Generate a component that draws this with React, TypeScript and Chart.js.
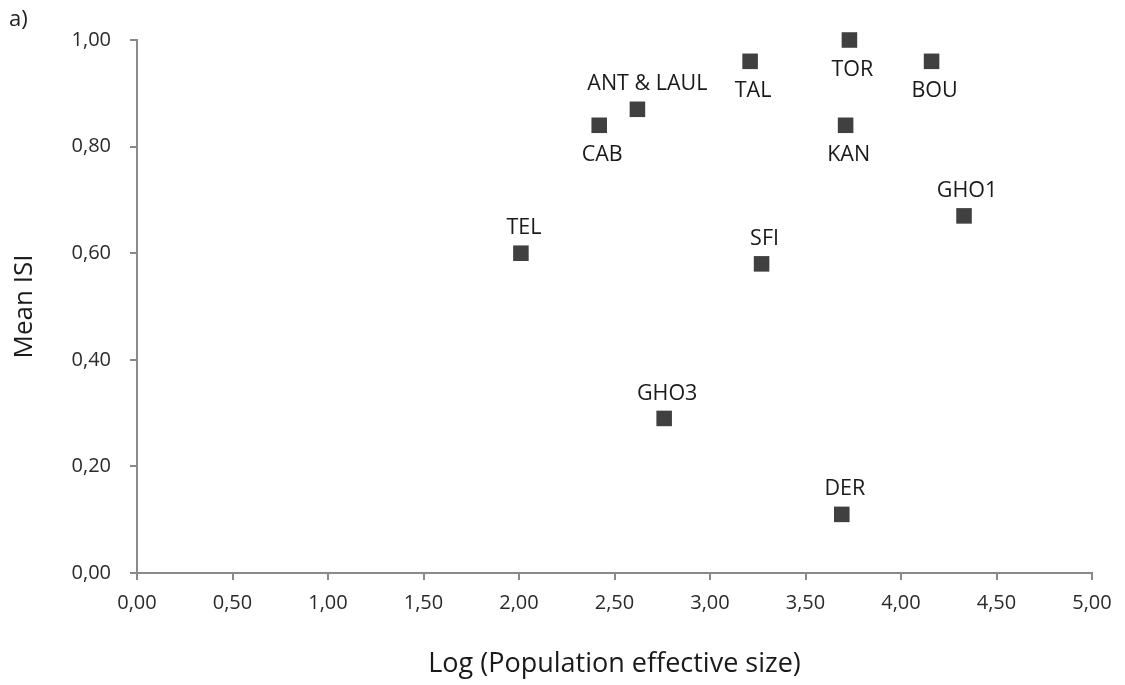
import React, { useEffect, useRef } from "react";
import { Chart, registerables } from "chart.js";

Chart.register(...registerables);

const siteNames = ["TEL", "CAB", "ANT & LAUL", "GHO3", "TAL", "SFI", "DER", "KAN", "TOR", "BOU", "GHO1"];
const logNe = [2.01, 2.42, 2.62, 2.76, 3.21, 3.27, 3.69, 3.71, 3.73, 4.16, 4.33];
const meanISI = [0.6, 0.84, 0.87, 0.29, 0.96, 0.58, 0.11, 0.84, 1.0, 0.96, 0.67];
const labelSide = ["above", "below", "above", "above", "below", "above", "above", "below", "below", "below", "above"];
const xTitle = "Log (Population effective size)";
const yTitle = "Mean ISI";
const panelTag = "a)";

const FONT = "'Open Sans', 'Liberation Sans', sans-serif";

const labelPlugin = {
  id: "pointLabels",
  afterDatasetsDraw(chart: any) {
    const { ctx, scales } = chart;
    ctx.save();
    ctx.font = `21.5px ${FONT}`;
    ctx.fillStyle = "#1a1a1a";
    ctx.textAlign = "center";
    ctx.textBaseline = "middle";
    siteNames.forEach((name, i) => {
      const px = scales.x.getPixelForValue(logNe[i]);
      const py = scales.y.getPixelForValue(meanISI[i]);
      const dx = name === "ANT & LAUL" ? 10 : 3;
      const dy = labelSide[i] === "above" ? -25 : 30;
      ctx.fillText(name, px + dx, py + dy);
    });
    ctx.font = `22px ${FONT}`;
    ctx.textAlign = "left";
    ctx.fillStyle = "#222";
    ctx.fillText(panelTag, 9, 20);
    ctx.restore();
  },
};

export default function App() {
  const ref = useRef<HTMLCanvasElement | null>(null);
  useEffect(() => {
    if (!ref.current) return;
    const chart = new Chart(ref.current, {
      type: "scatter",
      data: {
        datasets: [
          {
            data: logNe.map((x, i) => ({ x, y: meanISI[i] })),
            pointStyle: "rect",
            pointRadius: 11,
            backgroundColor: "#404040",
            borderColor: "#404040",
            borderWidth: 0,
            clip: false,
          },
        ],
      },
      options: {
        animation: false,
        responsive: false,
        maintainAspectRatio: false,
        layout: { padding: { left: 0, right: 33, top: 40, bottom: 0 } },
        plugins: { legend: { display: false }, tooltip: { enabled: false } },
        scales: {
          x: {
            type: "linear",
            min: 0,
            max: 5,
            border: { color: "#8a8a8a", width: 2 },
            grid: { drawOnChartArea: false, drawTicks: true, tickLength: 7, color: "#8a8a8a", lineWidth: 2 },
            ticks: {
              stepSize: 0.5,
              color: "#2a2a2a",
              font: { family: FONT, size: 20 },
              padding: 11,
              callback: (v: any) => Number(v).toFixed(2).replace(".", ","),
            },
            title: { display: true, text: xTitle, color: "#1a1a1a", font: { family: FONT, size: 27 }, padding: { top: 14 } },
            afterFit: (s: any) => { s.height = 112; },
          },
          y: {
            type: "linear",
            min: 0,
            max: 1,
            border: { color: "#8a8a8a", width: 2 },
            grid: { drawOnChartArea: false, drawTicks: true, tickLength: 7, color: "#8a8a8a", lineWidth: 2 },
            ticks: {
              stepSize: 0.2,
              color: "#2a2a2a",
              font: { family: FONT, size: 20 },
              padding: 19,
              callback: (v: any) => Number(v).toFixed(2).replace(".", ","),
            },
            title: { display: true, text: yTitle, color: "#1a1a1a", font: { family: FONT, size: 26 }, padding: { top: 9, bottom: 10 } },
            afterFit: (s: any) => { s.width = 137; },
          },
        },
      },
      plugins: [labelPlugin],
    });
    return () => chart.destroy();
  }, []);
  return (
    <div style={{ position: "fixed", left: 0, top: 0, width: 1125, height: 685, background: "#fff" }}>
      <canvas ref={ref} width={1125} height={685} style={{ width: 1125, height: 685 }} />
    </div>
  );
}
